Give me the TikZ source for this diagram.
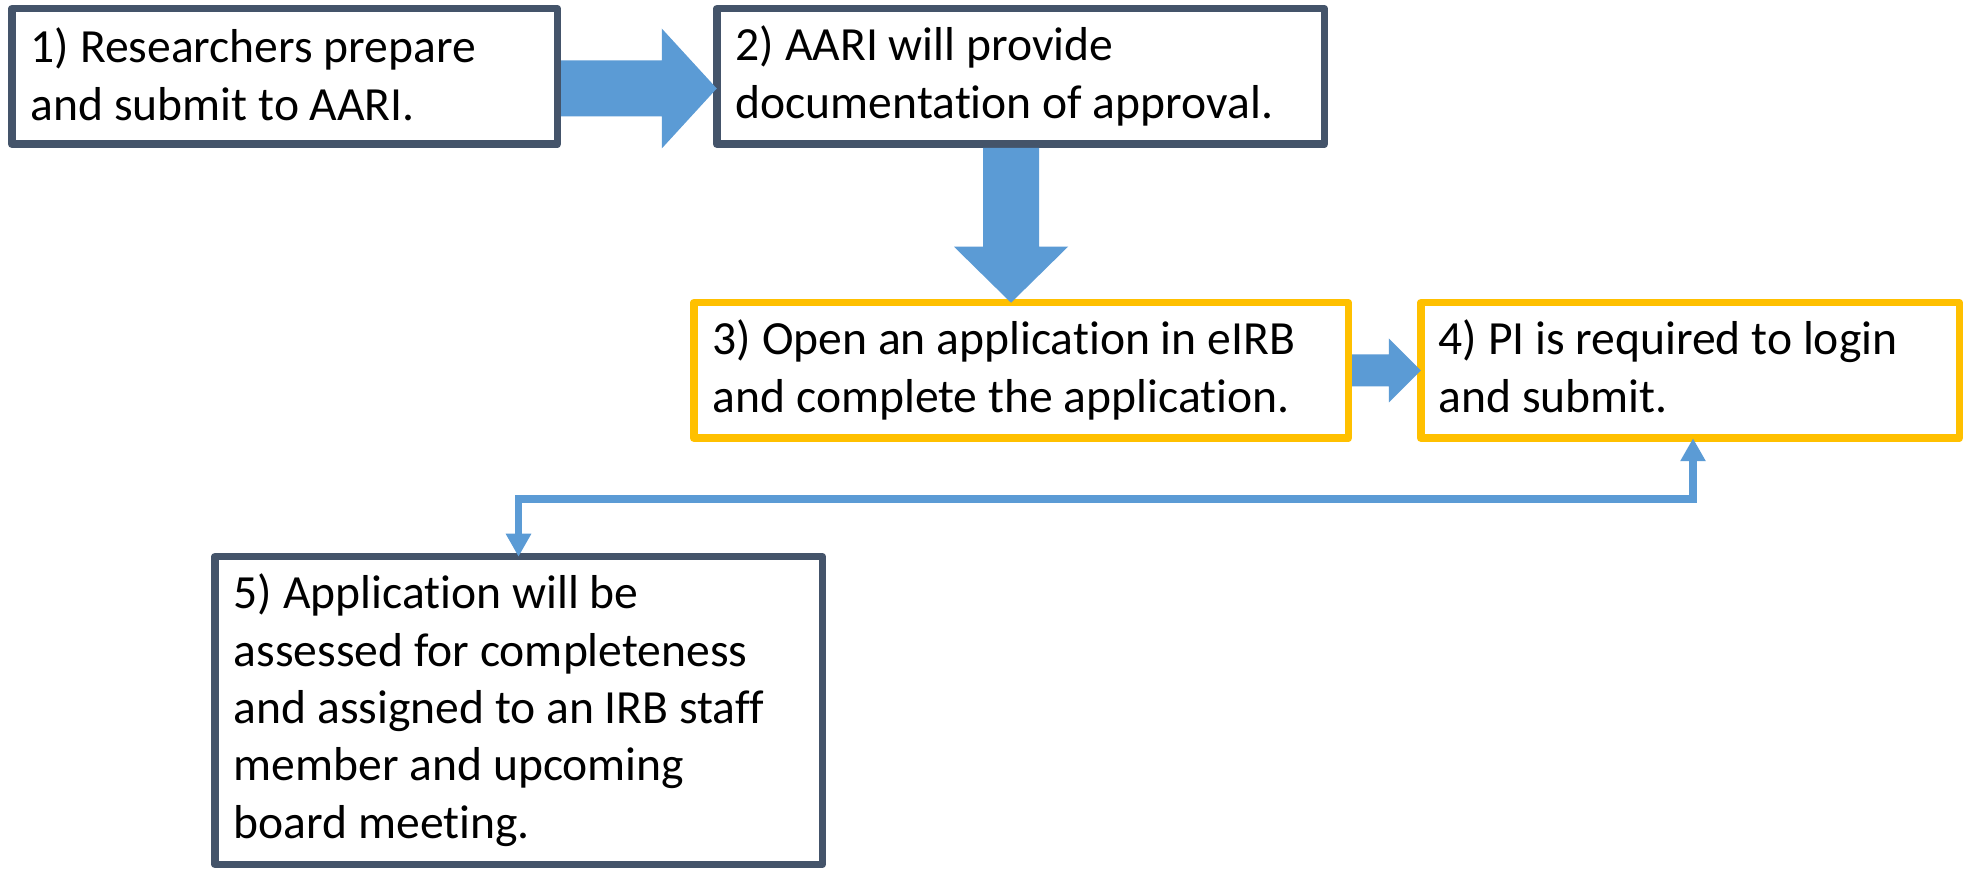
\documentclass[tikz,border=0pt]{standalone}
\usepackage{fontspec}
\setmainfont{Carlito}[Ligatures={NoCommon,NoContextual}]
\usetikzlibrary{fit,calc,arrows.meta}
\definecolor{boxdark}{HTML}{44546A}
\definecolor{boxyellow}{HTML}{FFC000}
\definecolor{arrowblue}{HTML}{5B9BD5}
\begin{document}
\begin{tikzpicture}[x=0.5pt,y=-0.5pt,
  darkbox/.style={draw=boxdark, line width=3.75pt, fill=white, inner sep=0pt, outer sep=0pt, line join=round},
  yellowbox/.style={darkbox, draw=boxyellow},
  boxtext/.style={anchor=north west, inner sep=0pt, outer sep=0pt, align=left, font=\fontsize{23.8pt}{28.65pt}\selectfont},
  blockarrow/.style={fill=arrowblue, draw=none},
  conntip/.tip={Triangle[width=12pt,length=11.5pt]},
  conn/.style={draw=arrowblue, line width=3.9pt, conntip-conntip}]
\path[use as bounding box, fill=white] (0,0) rectangle (1965,870);

% boxes
\node[darkbox, fit={(11.75,8.75) (557.25,144.25)}] (b1) {};
\node[darkbox, fit={(716.75,8.75) (1324.25,144.25)}] (b2) {};
\node[yellowbox, fit={(693.75,302.75) (1348.25,438.25)}] (b3) {};
\node[yellowbox, fit={(1420.75,302.75) (1959.25,438.25)}] (b4) {};
\node[darkbox, fit={(214.75,556.75) (822.25,864.25)}] (b5) {};

% texts
\node[boxtext] (t1) at ($(b1.north west)+(19,14)$) {\strut 1) Researchers prepare\\and submit to AARI.};
\node[boxtext] (t2) at ($(b2.north west)+(19,12)$) {\strut 2) AARI will provide\\documentation of approval.};
\node[boxtext] (t3) at ($(b3.north west)+(19,12)$) {\strut 3) Open an application in eIRB\\and complete the application.};
\node[boxtext] (t4) at ($(b4.north west)+(18,12)$) {\strut 4) PI is required to login\\and submit.};
\node[boxtext] (t5) at ($(b5.north west)+(19,12)$) {\strut 5) Application will be\\assessed for completeness\\and assigned to an IRB staff\\member and upcoming\\board meeting.};

% block arrow 1 -> 2
\coordinate (a1s) at ($(b1.east)+(3.75,12)$);
\coordinate (a1t) at (b2.west |- a1s);
\fill[blockarrow] ($(a1s)+(0,-28)$) -- ($(a1t)+(-55,-28)$) -- ($(a1t)+(-55,-60)$) -- (a1t)
  -- ($(a1t)+(-55,60)$) -- ($(a1t)+(-55,28)$) -- ($(a1s)+(0,28)$) -- cycle;

% block arrow 2 -> 3
\coordinate (a2s) at ($(b2.south)+(-9.5,3.75)$);
\coordinate (a2t) at (a2s |- b3.north);
\fill[blockarrow] ($(a2s)+(-28,0)$) -- ($(a2t)+(-28,-56)$) -- ($(a2t)+(-57,-56)$) -- (a2t)
  -- ($(a2t)+(57,-56)$) -- ($(a2t)+(28,-56)$) -- ($(a2s)+(28,0)$) -- cycle;

% block arrow 3 -> 4
\coordinate (a3s) at ($(b3.east)+(3.75,0)$);
\coordinate (a3t) at (b4.west);
\fill[blockarrow] ($(a3s)+(0,-16)$) -- ($(a3t)+(-32,-16)$) -- ($(a3t)+(-32,-32)$) -- (a3t)
  -- ($(a3t)+(-32,32)$) -- ($(a3t)+(-32,16)$) -- ($(a3s)+(0,16)$) -- cycle;

% connector 4 <-> 5
\coordinate (c0) at ($(b4.south)+(3,0)$);
\coordinate (c1) at ($(b4.south)+(3,60.5)$);
\draw[conn] (c0) -- (c1) -| (b5.north);
\end{tikzpicture}
\end{document}
